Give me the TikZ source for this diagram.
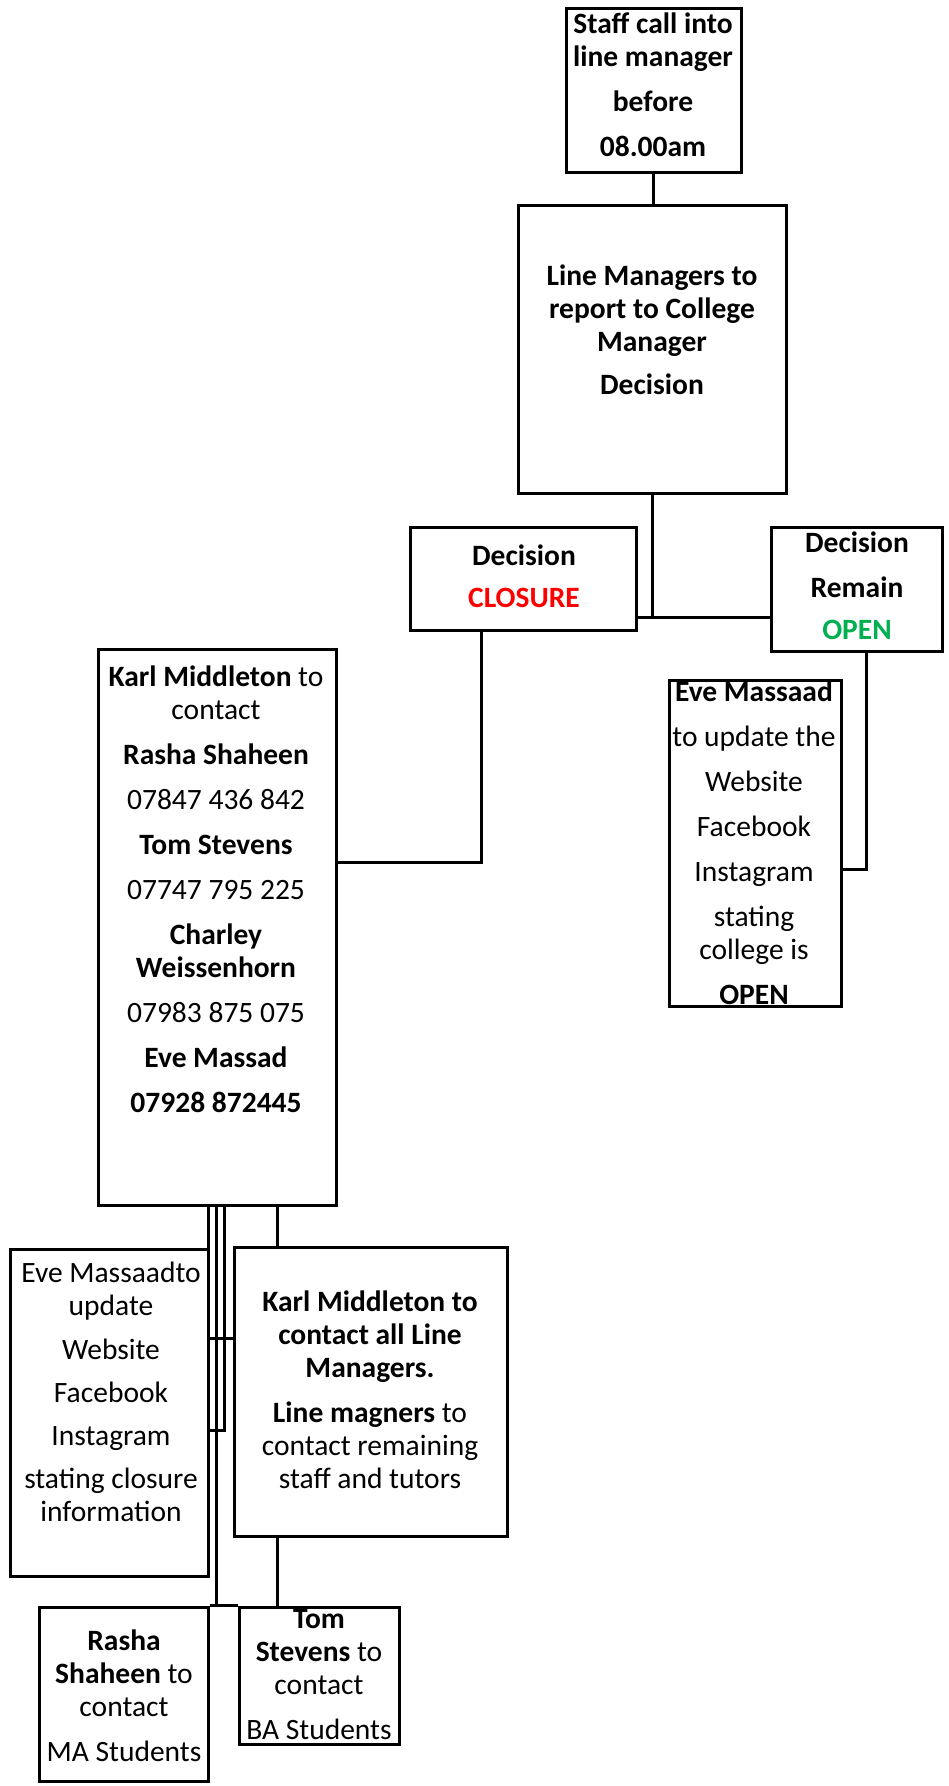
\documentclass[tikz,border=0pt]{standalone}
\usepackage{fontspec}
\setmainfont{Carlito}
\definecolor{closered}{RGB}{255,0,0}
\definecolor{opengreen}{RGB}{0,176,80}
\begin{document}
\begin{tikzpicture}[x=1pt,y=-1pt,
  bx/.style={draw, line width=3pt, inner sep=0pt, rectangle},
  txt/.style={align=center, inner sep=0pt, anchor=north, font=\fontsize{29.5}{33}\selectfont},
  conn/.style={line width=3pt}]
\useasboundingbox (0,0) rectangle (948,1786);
% boxes
\node[bx, minimum width=175pt, minimum height=164pt] (b1) at (653.5,90) {};
\node[bx, minimum width=268pt, minimum height=288pt] (b2) at (652,349) {};
\node[bx, minimum width=226pt, minimum height=103pt] (dc) at (523,578.5) {};
\node[bx, minimum width=171pt, minimum height=124pt] (dr) at (856.5,589) {};
\node[bx, minimum width=238pt, minimum height=556pt] (k) at (217,927) {};
\node[bx, minimum width=172pt, minimum height=326pt] (eo) at (755,843) {};
\node[bx, minimum width=198pt, minimum height=327pt] (ev) at (109,1412.5) {};
\node[bx, minimum width=273pt, minimum height=289pt] (lm) at (370.5,1391.5) {};
\node[bx, minimum width=169pt, minimum height=174pt] (ra) at (123.5,1694) {};
\node[bx, minimum width=160pt, minimum height=137pt] (tm) at (319,1675.5) {};
% texts
\node[txt, font=\fontsize{29.5}{33}\selectfont\bfseries] (t1) at (653,13)
  {Staff call into\\line manager\\[12pt]before\\[12pt]08.00am};
\node[txt, font=\fontsize{29.5}{33}\selectfont\bfseries] (t2) at (652,265)
  {Line Managers to\\report to College\\Manager\\[10pt]Decision};
\node[txt, font=\fontsize{29.5}{33}\selectfont\bfseries] (t3) at (524,545)
  {Decision\\[9pt]\textcolor{closered}{CLOSURE}};
\node[txt, font=\fontsize{29.5}{33}\selectfont\bfseries] (t4) at (857,532)
  {Decision\\[12pt]Remain\\[9pt]\textcolor{opengreen}{OPEN}};
\node[txt] (t5) at (216,666)
  {\textbf{Karl Middleton} to\\contact\\[12pt]\textbf{Rasha Shaheen}\\[12pt]07847 436 842\\[12pt]\textbf{Tom Stevens}\\[12pt]07747 795 225\\[12pt]\textbf{Charley}\\\textbf{Weissenhorn}\\[12pt]07983 875 075\\[12pt]\textbf{Eve Massad}\\[12pt]\textbf{07928 872445}};
\node[txt] (t6) at (754,681)
  {\textbf{Eve Massaad}\\[12pt]to update the\\[12pt]Website\\[12pt]Facebook\\[12pt]Instagram\\[12pt]stating\\college is\\[12pt]\textbf{OPEN}};
\node[txt] (t7) at (111,1262)
  {Eve Massaadto\\update\\[11pt]Website\\[10pt]Facebook\\[10pt]Instagram\\[10pt]stating closure\\information};
\node[txt] (t8) at (370,1291)
  {\textbf{Karl Middleton to}\\\textbf{contact all Line}\\\textbf{Managers.}\\[12pt]\textbf{Line magners} to\\contact remaining\\staff and tutors};
\node[txt] (t9) at (124,1630)
  {\textbf{Rasha}\\\textbf{Shaheen} to\\contact\\[12pt]MA Students};
\node[txt] (t10) at (319,1609)
  {\textbf{Tom}\\\textbf{Stevens} to\\contact\\[12pt]BA Students};
% connectors
\coordinate (j) at (652,617);
\coordinate (cx) at (481,862);
\coordinate (ox) at (866,869);
\coordinate (p1) at (208,0);
\coordinate (p2) at (216,1607);
\coordinate (p3) at (224,1430);
\coordinate (p4) at (0,1338);
\coordinate (p5) at (277,0);
\draw[conn] (b1.south) -- (b1.south |- b2.north);
\draw[conn] (b2.south) -- (j);
\draw[conn] (dc.east |- j) -- (dr.west |- j);
\draw[conn] (dc.south -| cx) -- (cx) -- (k.east |- cx);
\draw[conn] (dr.south -| ox) -- (ox) -- (eo.east |- ox);
\draw[conn] (k.south -| p1) -- (p1 |- ev.north);
\draw[conn] (k.south -| p2) -- (p2);
\draw[conn] (ra.north east) -- (tm.north west);
\draw[conn] (k.south -| p3) -- (p3) -- (ev.east |- p3);
\draw[conn] (ev.east |- p4) -- (lm.west |- p4);
\draw[conn] (k.south -| p5) -- (lm.north -| p5);
\draw[conn] (lm.south -| p5) -- (tm.north -| p5);
\end{tikzpicture}
\end{document}
